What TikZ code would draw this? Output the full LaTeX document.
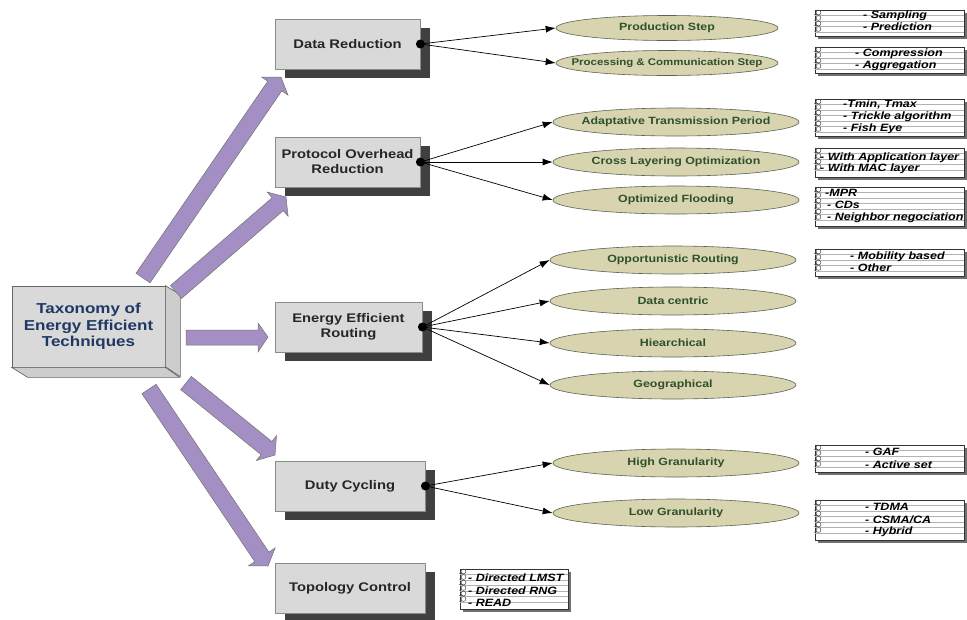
\documentclass[tikz,border=0pt]{standalone}
\usepackage{fontspec}
\setmainfont{Liberation Sans}[FakeStretch=1.18]
\usetikzlibrary{shapes.geometric,shadows,calc,arrows.meta}
\definecolor{boxfill}{RGB}{217,217,217}
\definecolor{boxline}{RGB}{130,145,130}
\definecolor{shadowc}{RGB}{64,64,64}
\definecolor{ellfill}{RGB}{216,212,176}
\definecolor{elltext}{RGB}{45,80,45}
\definecolor{ellline}{RGB}{90,100,80}
\definecolor{purp}{RGB}{163,143,196}
\definecolor{roottext}{RGB}{31,56,100}
\definecolor{sidefill}{RGB}{205,205,205}
\tikzset{
 catbox/.style={draw=boxline, fill=boxfill, line width=0.8pt, minimum height=50pt, inner sep=0pt, align=center,
   font=\fontsize{12.5}{15}\selectfont\bfseries, text=black!85,
   drop shadow={shadow xshift=10pt, shadow yshift=-9pt, fill=shadowc, opacity=1}},
 rootbox/.style={draw=black!60, fill=boxfill, line width=0.7pt, minimum width=153pt, minimum height=81pt, inner sep=0pt,
   align=center, font=\fontsize{14.4}{16.5}\selectfont\bfseries, text=roottext},
 side/.style={draw=black!60, fill=sidefill, line width=0.7pt},
 ell/.style={ellipse, draw=ellline, fill=ellfill, line width=0.6pt, minimum width=246pt, minimum height=28pt,
   inner xsep=-60pt, inner ysep=0pt, font=\fontsize{10.5}{12}\selectfont\bfseries, text=elltext},
 dotn/.style={circle, fill=black, minimum size=9pt, inner sep=0pt},
 conn/.style={-{Latex[length=10pt,width=7pt]}, line width=0.7pt},
 nptext/.style={anchor=west, font=\fontsize{10.6}{12}\selectfont\bfseries\itshape, inner sep=0pt},
 bigarrow/.style={fill=purp, draw=black!55, line width=0.5pt, line join=miter},
}
\newcommand{\npad}[4]{%
  \fill[shadowc!75] (#1+2.5,#2+2.5) rectangle (#3+2.5,#4+2.5);
  \filldraw[fill=white, draw=black!80, line width=0.6pt] (#1,#2) rectangle (#3,#4);
  \pgfmathtruncatemacro{\npn}{(#4-#2-2)/5.5}
  \foreach \k in {1,...,\npn} {\draw[gray!60, line width=0.4pt] (#1,#2+5.5*\k) -- (#3,#2+5.5*\k);}
  \foreach \k in {1,...,\npn} {\draw[black!70, line width=0.5pt] (#1-1,#2+5.5*\k-1) -- (#1+3,#2+5.5*\k-1)
      (#1+3.5,#2+5.5*\k-3) circle[radius=2.4];}
}
\newcommand{\bigarr}[2]{%
  \coordinate (ba-t) at #1; \coordinate (ba-p) at #2;
  \coordinate (ba-h) at ($(ba-p)!11pt!(ba-t)$);
  \draw[bigarrow] ($(ba-t)!8.5pt!90:(ba-p)$) -- ($(ba-h)!8.5pt!-90:(ba-t)$) -- ($(ba-h)!16pt!-90:(ba-t)$)
    -- (ba-p) -- ($(ba-h)!16pt!90:(ba-t)$) -- ($(ba-h)!8.5pt!90:(ba-t)$) -- ($(ba-t)!8.5pt!-90:(ba-p)$) -- cycle;
}
\begin{document}
\begin{tikzpicture}[x=1pt,y=-1pt]
\useasboundingbox[fill=white] (0,0) rectangle (967,619);

% root
\node[rootbox] (root) at (88.5,326.5) {Taxonomy of\\Energy Efficient\\Techniques};
\draw[side] (root.north east) -- ++(15,9) -- ++(0,82) -- ++(-15,-10) -- cycle;
\draw[side] (root.south west) -- ++(16,10) -- ++(152,0) -- (root.south east) -- cycle;

% big arrows
\bigarr{(143,278)}{(281,77)}
\bigarr{(176,292)}{(286,197)}
\draw[bigarrow] (186,330) -- (258,330) -- (258,323) -- (268,337) -- (258,352) -- (258,345) -- (186,345) -- cycle;
\bigarr{(186,383)}{(275,455)}
\bigarr{(149,389)}{(268,566)}

% category boxes
\node[catbox, minimum width=145pt] (dr) at (347.5,44) {Data Reduction};
\node[catbox, minimum width=145pt] (por) at (347.5,162) {Protocol Overhead\\Reduction};
\node[catbox, minimum width=147pt] (eer) at (348.5,327) {Energy Efficient\\Routing};
\node[catbox, minimum width=150pt] (dcy) at (350,486) {Duty Cycling};
\node[catbox, minimum width=150pt] (tc) at (350,588) {Topology Control};

% ellipses
\node[ell, minimum width=222pt, minimum height=25pt] (ps) at (667,28) {Production Step};
\node[ell, minimum width=222pt, minimum height=25pt, font=\fontsize{9.7}{11}\selectfont\bfseries] (pcs) at (667,63) {Processing \& Communication Step};
\node[ell] (atp) at (676,122) {Adaptative Transmission Period};
\node[ell] (clo) at (676,162) {Cross Layering Optimization};
\node[ell] (of) at (676,200) {Optimized Flooding};
\node[ell] (opr) at (673,260) {Opportunistic Routing};
\node[ell] (dce) at (673,301) {Data centric};
\node[ell] (hie) at (673,343) {Hiearchical};
\node[ell] (geo) at (673,385) {Geographical};
\node[ell] (hg) at (676,463) {High Granularity};
\node[ell] (lg) at (676,513) {Low Granularity};

% dots and connectors
\node[dotn] (drd) at (dr.east) {};
\node[dotn] (pord) at (por.east) {};
\node[dotn] (eerd) at (eer.east) {};
\node[dotn] (dcyd) at (dcy.east) {};
\draw[conn] (drd.center) -- (ps.west);
\draw[conn] (drd.center) -- (pcs.west);
\draw[conn] (pord.center) -- (atp.west);
\draw[conn] (pord.center) -- (clo.west);
\draw[conn] (pord.center) -- (of.west);
\draw[conn] (eerd.center) -- (opr.west);
\draw[conn] (eerd.center) -- (dce.west);
\draw[conn] (eerd.center) -- (hie.west);
\draw[conn] (eerd.center) -- (geo.west);
\draw[conn] (dcyd.center) -- (hg.west);
\draw[conn] (dcyd.center) -- (lg.west);

% notepads
\npad{815}{10}{964}{36}
\node[nptext] (n1a) at (863,15.5) {- Sampling};
\node[nptext] (n1b) at (863,27) {- Prediction};
\npad{815}{47}{964}{73}
\node[nptext] (n2a) at (855,53.5) {- Compression};
\node[nptext] (n2b) at (855,66) {- Aggregation};
\npad{815}{99}{964}{136}
\node[nptext] (n3a) at (843,104.5) {-Tmin, Tmax};
\node[nptext] (n3b) at (843,117) {- Trickle algorithm};
\node[nptext] (n3c) at (843,129) {- Fish Eye};
\npad{815}{148}{964}{177}
\node[nptext] (n4a) at (820,158) {- With Application layer};
\node[nptext] (n4b) at (820,169) {- With MAC layer};
\npad{815}{187}{964}{226}
\node[nptext] (n5a) at (825,193) {-MPR};
\node[nptext] (n5b) at (827,205) {- CDs};
\node[nptext] (n5c) at (827,217.5) {- Neighbor negociation};
\npad{815}{249}{964}{276}
\node[nptext] (n6a) at (850,256.5) {- Mobility based};
\node[nptext] (n6b) at (850,268) {- Other};
\npad{815}{445}{964}{472}
\node[nptext] (n7a) at (865,452) {- GAF};
\node[nptext] (n7b) at (865,465) {- Active set};
\npad{815}{500}{964}{540}
\node[nptext] (n8a) at (865,507) {- TDMA};
\node[nptext] (n8b) at (865,520) {- CSMA/CA};
\node[nptext] (n8c) at (865,532) {- Hybrid};
\npad{460}{569}{568}{609}
\node[nptext] (n9a) at (468,578) {- Directed LMST};
\node[nptext] (n9b) at (468,590.5) {- Directed RNG};
\node[nptext] (n9c) at (468,603) {- READ};
\end{tikzpicture}
\end{document}
